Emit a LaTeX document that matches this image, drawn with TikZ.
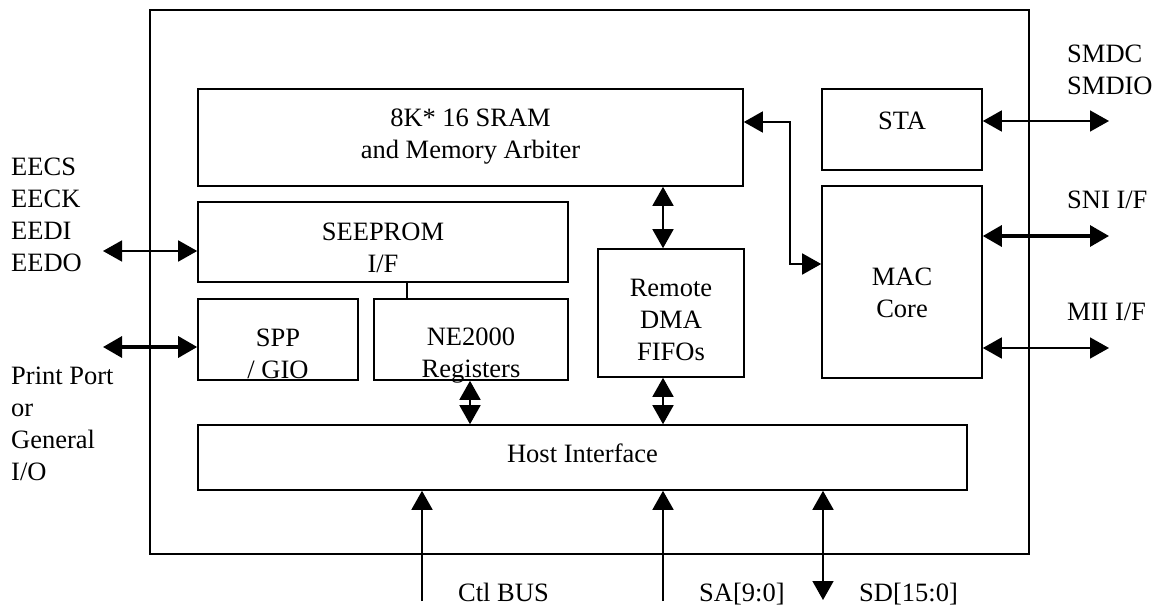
\documentclass[tikz,border=0pt]{standalone}
\usepackage{fontspec}
\setmainfont{Liberation Serif}
\usetikzlibrary{arrows.meta,calc}
\begin{document}
\begin{tikzpicture}[x=1pt,y=-1pt,
  box/.style={draw, line width=1.6pt, inner sep=0pt},
  lbl/.style={font=\fontsize{26.5}{32}\selectfont, align=center, inner sep=0pt},
  side/.style={font=\fontsize{26.5}{32}\selectfont, anchor=base west, inner sep=0pt},
  biarrow/.style={line width=1.6pt, {Triangle[length=19pt,width=21pt]}-{Triangle[length=19pt,width=21pt]}},
  bithick/.style={line width=3.2pt, {Triangle[length=19pt,width=21pt]}-{Triangle[length=19pt,width=21pt]}},
  inarrow/.style={line width=1.6pt, -{Triangle[length=19pt,width=21pt]}},
  link/.style={line width=1.6pt}
]
\useasboundingbox (0,0) rectangle (1158,607);

% blocks
\node[box, minimum width=879pt, minimum height=544pt] (outer) at (589.5,282) {};
\node[box, minimum width=545pt, minimum height=97pt] (sram) at (470.5,137.5) {};
\node[box, minimum width=160pt, minimum height=81pt] (sta) at (902,129.5) {};
\node[box, minimum width=160pt, minimum height=192pt] (mac) at (902,282) {};
\node[box, minimum width=370pt, minimum height=80pt] (seeprom) at (383,242) {};
\node[box, minimum width=160pt, minimum height=81pt] (spp) at (278,339.5) {};
\node[box, minimum width=194pt, minimum height=81pt] (ne) at (471,339.5) {};
\node[box, minimum width=146pt, minimum height=128pt] (remote) at (671,313) {};
\node[box, minimum width=769pt, minimum height=65pt] (host) at (582.5,457.5) {};

% block texts
\node[lbl] (sramT) at (470.5,137) {8K* 16 SRAM\\and Memory Arbiter};
\node[lbl] (staT) at (902,121) {STA};
\node[lbl] (macT) at (902,293) {MAC\\Core};
\node[lbl] (seepromT) at (383,248) {SEEPROM\\I/F};
\node[lbl] (sppT) at (278,354) {SPP\\/ GIO};
\node[lbl] (neT) at (471,356) {NE2000\\Registers};
\node[lbl] (remoteT) at (671,320) {Remote\\DMA\\FIFOs};
\node[lbl] (hostT) at (582.5,453) {Host Interface};

% outside labels
\node[side] (l1) at (11,175) {EECS};
\node[side] (l2) at (11,207) {EECK};
\node[side] (l3) at (11,239) {EEDI};
\node[side] (l4) at (11,271) {EEDO};
\node[side] (p1) at (11,384) {Print Port};
\node[side] (p2) at (11,416) {or};
\node[side] (p3) at (11,448) {General};
\node[side] (p4) at (11,480) {I/O};
\node[side] (r1) at (1067,63) {SMDC};
\node[side] (r2) at (1067,95) {SMDIO};
\node[side] (r3) at (1067,208) {SNI I/F};
\node[side] (r4) at (1067,320) {MII I/F};
\node[side] (b1) at (458,601) {Ctl BUS};
\node[side] (b2) at (699,601) {SA[9:0]};
\node[side] (b3) at (859,601) {SD[15:0]};

% free ends
\coordinate (eeL) at (103,251);
\coordinate (ppL) at (103,347);
\coordinate (staR) at (1109,121);
\coordinate (sniR) at (1109,236);
\coordinate (miiR) at (1109,348);
\coordinate (ctlB) at (422,601);
\coordinate (saB) at (663,601);
\coordinate (sdB) at (823,600);

% connectors
\draw[biarrow] (eeL) -- (seeprom.west |- eeL);
\draw[bithick] (ppL) -- (spp.west |- ppL);
\draw[biarrow] (sta.east |- staR) -- (staR);
\draw[bithick] (mac.east |- sniR) -- (sniR);
\draw[biarrow] (mac.east |- miiR) -- (miiR);
\draw[biarrow] (sram.east |- 0,122) -| (790,264) -- (mac.west |- 0,264);
\draw[biarrow] (sram.south -| 663,0) -- (remote.north -| 663,0);
\draw[biarrow] (ne.south -| 470,0) -- (host.north -| 470,0);
\draw[biarrow] (remote.south -| 663,0) -- (host.north -| 663,0);
\draw[link] (seeprom.south -| 407,0) -- (ne.north -| 407,0);
\draw[inarrow] (ctlB) -- (host.south -| ctlB);
\draw[inarrow] (saB) -- (host.south -| saB);
\draw[biarrow] (host.south -| sdB) -- (sdB);
\end{tikzpicture}
\end{document}
